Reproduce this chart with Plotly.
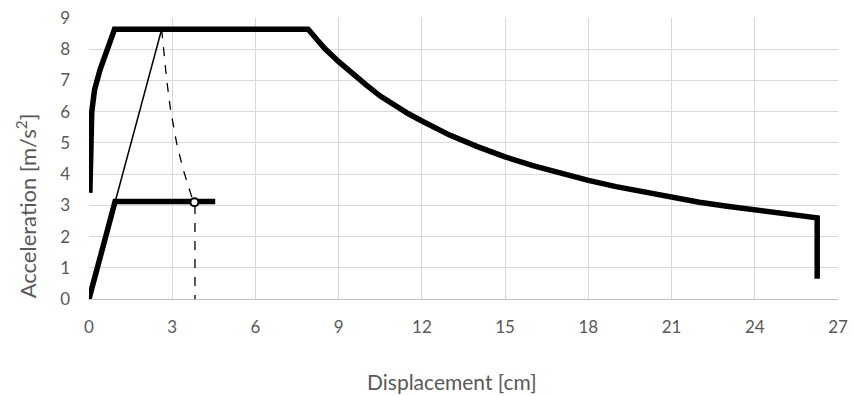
import plotly.graph_objects as go

# Demand spectrum (thick)
demand_x = [0.03, 0.06, 0.1, 0.2, 0.4, 0.92, 7.9, 8.2, 8.5, 9, 9.5, 10, 10.5, 11, 11.5, 12, 13, 14, 15, 16, 17, 18, 19, 20, 21, 22, 23, 24, 25, 26.25, 26.25]
demand_y = [3.4, 5.0, 6.0, 6.7, 7.35, 8.64, 8.64, 8.33, 8.02, 7.6, 7.2, 6.85, 6.5, 6.2, 5.94, 5.7, 5.25, 4.88, 4.55, 4.27, 4.02, 3.8, 3.6, 3.42, 3.25, 3.1, 2.97, 2.85, 2.73, 2.6, 0.65]

# Capacity curve (thick)
cap_x = [0.0, 0.94, 4.55]
cap_y = [0.0, 3.12, 3.12]

# Initial stiffness line (thin)
stiff_x = [0.0, 2.62]
stiff_y = [0.0, 8.64]

# Dashed reduction curve
dash_x = [2.62, 2.80, 2.94, 3.16, 3.40, 3.70, 3.80, 3.82, 3.82]
dash_y = [8.64, 7.02, 6.06, 4.99, 4.13, 3.28, 3.10, 3.10, 0.0]

# Performance point
pp_x = [3.80]
pp_y = [3.10]

x_ticks = [0, 3, 6, 9, 12, 15, 18, 21, 24, 27]
y_ticks = [0, 1, 2, 3, 4, 5, 6, 7, 8, 9]
x_title = "Displacement [cm]"
y_title = "Acceleration [m/s<sup>2</sup>]"

fig = go.Figure()
fig.add_trace(go.Scatter(x=stiff_x, y=stiff_y, mode="lines",
                         line=dict(color="black", width=1.5), hoverinfo="skip"))
fig.add_trace(go.Scatter(x=dash_x, y=dash_y, mode="lines",
                         line=dict(color="black", width=1.3, dash="dash"), hoverinfo="skip"))
fig.add_trace(go.Scatter(x=demand_x, y=demand_y, mode="lines",
                         line=dict(color="black", width=5.5), hoverinfo="skip"))
fig.add_trace(go.Scatter(x=cap_x, y=cap_y, mode="lines",
                         line=dict(color="black", width=5.5), hoverinfo="skip"))
fig.add_trace(go.Scatter(x=pp_x, y=pp_y, mode="markers",
                         marker=dict(color="white", size=8, line=dict(color="black", width=2)),
                         hoverinfo="skip"))

font_family = "Lato, Open Sans, sans-serif"
grey = "#595959"
fig.update_layout(
    width=854, height=396,
    margin=dict(l=89, r=16, t=18, b=97),
    paper_bgcolor="white", plot_bgcolor="white",
    showlegend=False,
    font=dict(family=font_family, color=grey, size=17),
    xaxis=dict(range=[0, 27], tickvals=x_ticks, ticktext=[str(v) for v in x_ticks],
               showgrid=True, gridcolor="#d9d9d9", gridwidth=1,
               zeroline=False, showline=True, linecolor="#bfbfbf", linewidth=1,
               ticks="", ticklabelstandoff=13, automargin=False,
               tickfont=dict(family=font_family, size=17, color=grey)),
    yaxis=dict(range=[0, 9], tickvals=y_ticks, ticktext=[str(v) for v in y_ticks],
               showgrid=True, gridcolor="#d9d9d9", gridwidth=1,
               zeroline=False, showline=False, ticks="",
               ticklabelstandoff=18, automargin=False,
               tickfont=dict(family=font_family, size=17, color=grey)),
    annotations=[
        dict(text=x_title, xref="paper", yref="paper", x=0.485, y=-0.295,
             xanchor="center", yanchor="middle", showarrow=False,
             font=dict(family=font_family, size=21, color=grey)),
        dict(text=y_title, xref="paper", yref="paper", x=-0.084, y=0.33,
             xanchor="center", yanchor="middle", showarrow=False, textangle=-90,
             font=dict(family=font_family, size=22, color=grey)),
    ],
)

fig.write_html("out.html", config={"displayModeBar": False},
               post_script="document.body.style.margin='0';document.body.style.overflow='hidden';")
